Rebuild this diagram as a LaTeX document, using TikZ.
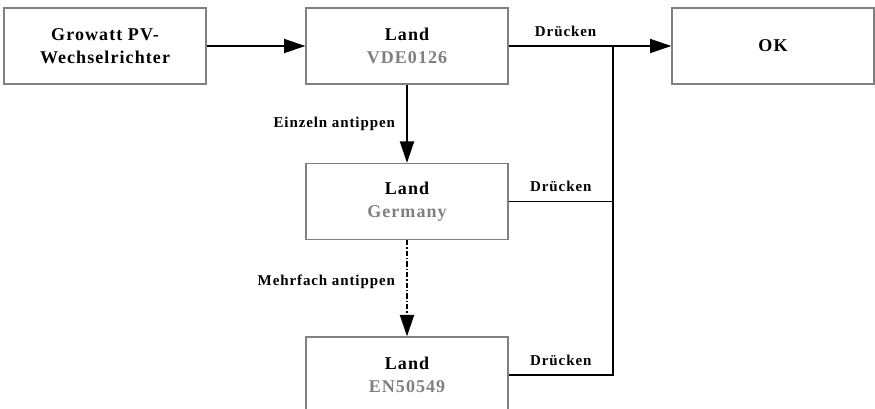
\documentclass[tikz,border=0pt]{standalone}
\usepackage{fontspec}
\setmainfont{Liberation Serif}[LetterSpace=6]
\usetikzlibrary{arrows.meta}
\definecolor{boxgray}{HTML}{808080}

\begin{document}
\begin{tikzpicture}[x=0.75pt,y=-0.75pt,
	box/.style={draw=boxgray,line width=1pt,minimum width=151.5pt,minimum height=57pt,inner sep=0pt,align=center,font=\bfseries\fontsize{13.5}{17}\selectfont},
	link/.style={line width=1.4pt,-{Triangle[length=16pt,width=10.5pt]}},
	wire/.style={line width=1.4pt},
	lbl/.style={font=\bfseries\fontsize{11.25}{13}\selectfont}]
	\useasboundingbox (0,0) rectangle (875,409);
	\node[box] (pv) at (105,46) {Growatt PV-\\Wechselrichter};
	\node[box] (vde) at (407,46) {Land\\\textcolor{boxgray}{VDE0126}};
	\node[box] (ok) at (773,46) {OK};
	\node[box] (ger) at (407,201.5) {Land\\\textcolor{boxgray}{Germany}};
	\node[box] (en) at (407,375) {Land\\\textcolor{boxgray}{EN50549}};
	\coordinate (join) at (613,46);
	\draw[link] (pv) -- (vde);
	\draw[link] (vde) -- node[lbl,pos=0.35,above=3pt] {Drücken} (ok);
	\draw[link] (vde) -- node[lbl,left=5pt] {Einzeln antippen} (ger);
	\draw[link,dash pattern=on 4pt off 1.5pt on 1pt off 1.5pt] (ger) -- node[lbl,pos=0.43,left=5pt] {Mehrfach antippen} (en);
	\draw[wire] (ger.east) -| node[lbl,pos=0.25,above=3pt] {Drücken} (join);
	\draw[wire] (en.east) -| node[lbl,pos=0.25,above=3pt] {Drücken} (join);
\end{tikzpicture}
\end{document}
